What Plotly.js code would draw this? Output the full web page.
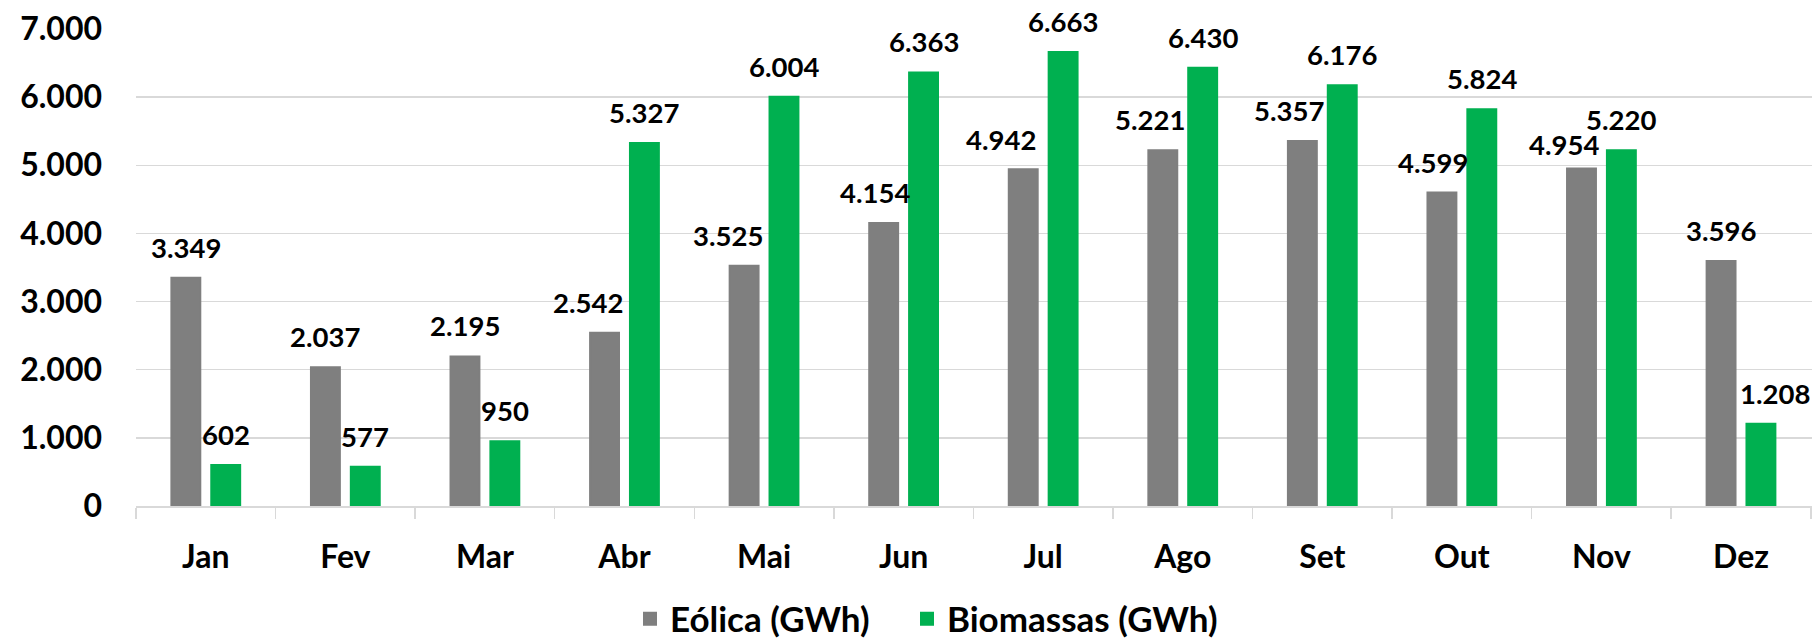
<!DOCTYPE html>
<html>
<head>
<meta charset="utf-8">
<script src="https://cdn.plot.ly/plotly-3.0.1.min.js"></script>
<style>
  html, body { margin: 0; padding: 0; background: #ffffff; }
  #chart { width: 1820px; height: 639px; }
</style>
</head>
<body>
<div id="chart"></div>
<script>
// ---- data ----
const months = ['Jan', 'Fev', 'Mar', 'Abr', 'Mai', 'Jun', 'Jul', 'Ago', 'Set', 'Out', 'Nov', 'Dez'];
const eolica = [3349, 2037, 2195, 2542, 3525, 4154, 4942, 5221, 5357, 4599, 4954, 3596];
const biomassas = [602, 577, 950, 5327, 6004, 6363, 6663, 6430, 6176, 5824, 5220, 1208];
const seriesNames = ['Eólica (GWh)', 'Biomassas (GWh)'];
const yTicks = [0, 1000, 2000, 3000, 4000, 5000, 6000, 7000];

// ---- styling ----
const GRAY = '#7f7f7f';
const GREEN = '#00b050';
const GRID = '#d9d9d9';
const FONT = 'Lato, "Open Sans", sans-serif';

// label placement tweaks (pixels), mirroring manual nudges in the original
const eolicaLabelDx = [0, 0, 0, -16, -16, -9, -22, -13, -13, -9, -17, 0];
const eolicaLabelDy = [0, 0, 0, 0, 0, 0, -1, 0, 0, 0, -7, 0];
const biomLabelDx = [0, 0, 0, 0, 0, 0, 0, 0, 0, 0, 0, 14];
const biomLabelDy = [0, 0, 0, 0, 0, 0, 0, 0, 0, 0, 0, 0];

function fmt(v) {
  return String(v).replace(/\B(?=(\d{3})+(?!\d))/g, '.');
}

const traces = [
  {
    type: 'bar', name: seriesNames[0], x: months, y: eolica,
    marker: { color: GRAY, line: { color: GRAY, width: 2 } },
    hoverinfo: 'x+y', legend: 'legend'
  },
  {
    type: 'bar', name: seriesNames[1], x: months, y: biomassas,
    marker: { color: GREEN, line: { color: GREEN, width: 2 } },
    hoverinfo: 'x+y', legend: 'legend2'
  }
];

const BAR_OFFSET = 20;
const LABEL_LIFT = 12;
const annotations = [];
months.forEach((m, i) => {
  annotations.push({
    x: m, y: eolica[i], xref: 'x', yref: 'y',
    text: fmt(eolica[i]), showarrow: false,
    xanchor: 'center', yanchor: 'bottom',
    xshift: -BAR_OFFSET + eolicaLabelDx[i], yshift: LABEL_LIFT + eolicaLabelDy[i],
    font: { family: FONT, size: 27.5, color: '#000', weight: 700 }
  });
  annotations.push({
    x: m, y: biomassas[i], xref: 'x', yref: 'y',
    text: fmt(biomassas[i]), showarrow: false,
    xanchor: 'center', yanchor: 'bottom',
    xshift: BAR_OFFSET + biomLabelDx[i], yshift: LABEL_LIFT + biomLabelDy[i],
    font: { family: FONT, size: 27.5, color: '#000', weight: 700 }
  });
});

const legendFont = { family: FONT, size: 35, color: '#000', weight: 700 };
const LEGEND_Y = 1 - 619 / 639;

const layout = {
  width: 1820, height: 639,
  margin: { l: 135.5, r: 7.5, t: 29, b: 133.3, pad: 0 },
  paper_bgcolor: '#ffffff', plot_bgcolor: '#ffffff',
  separators: ',.',
  barmode: 'group',
  bargap: 0.4286,
  bargroupgap: 0.275,
  showlegend: true,
  legend: {
    orientation: 'h',
    xref: 'container', yref: 'container',
    x: 630 / 1820, xanchor: 'left',
    y: LEGEND_Y, yanchor: 'middle',
    font: legendFont,
    bgcolor: 'rgba(0,0,0,0)', borderwidth: 0
  },
  legend2: {
    orientation: 'h',
    xref: 'container', yref: 'container',
    x: 907 / 1820, xanchor: 'left',
    y: LEGEND_Y, yanchor: 'middle',
    font: legendFont,
    bgcolor: 'rgba(0,0,0,0)', borderwidth: 0
  },
  xaxis: {
    type: 'category',
    showgrid: false,
    showline: true, linecolor: GRID, linewidth: 1.5,
    ticks: 'outside', tickson: 'boundaries', ticklen: 11, tickwidth: 1.5, tickcolor: GRID,
    ticklabelstandoff: 22,
    tickfont: { family: FONT, size: 32, color: '#000', weight: 700 },
    zeroline: false, fixedrange: true
  },
  yaxis: {
    range: [0, 7000],
    tickvals: yTicks,
    tickformat: ',d',
    showgrid: true, gridcolor: GRID, gridwidth: 1.5,
    showline: false, zeroline: false, ticks: '',
    ticklabelstandoff: 33,
    tickfont: { family: FONT, size: 32, color: '#000', weight: 700 },
    fixedrange: true
  },
  annotations: annotations
};

Plotly.newPlot('chart', traces, layout, { displayModeBar: false, staticPlot: true });
</script>
</body>
</html>
